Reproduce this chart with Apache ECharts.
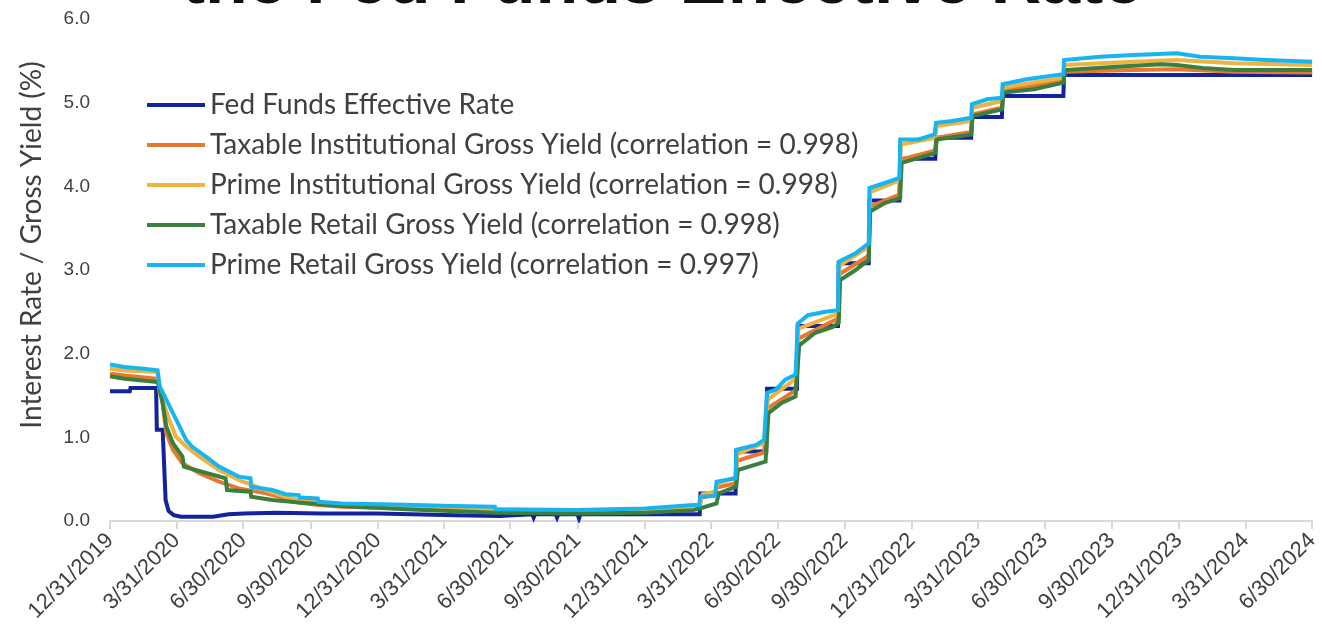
<!DOCTYPE html>
<html>
<head>
<meta charset="utf-8">
<title>Fed Funds Effective Rate vs Money Fund Gross Yields</title>
<script src="https://cdn.jsdelivr.net/npm/echarts@6/dist/echarts.min.js"></script>
<style>
  html, body { margin: 0; padding: 0; background: #ffffff; }
  #chart { width: 1322px; height: 630px; }
</style>
</head>
<body>
<div id="chart"></div>
<script>
// Quarter-end tick labels along the date axis
const tickLabels = ['12/31/2019','3/31/2020','6/30/2020','9/30/2020','12/31/2020','3/31/2021',
  '6/30/2021','9/30/2021','12/31/2021','3/31/2022','6/30/2022','9/30/2022','12/31/2022',
  '3/31/2023','6/30/2023','9/30/2023','12/31/2023','3/31/2024','6/30/2024'];

const yTicks = [0, 1, 2, 3, 4, 5, 6];

const seriesNames = [
  'Fed Funds Effective Rate',
  'Taxable Institutional Gross Yield (correlation = 0.998)',
  'Prime Institutional Gross Yield (correlation = 0.998)',
  'Taxable Retail Gross Yield (correlation = 0.998)',
  'Prime Retail Gross Yield (correlation = 0.997)'
];

// Fed funds effective rate (%)
const fedFunds = [
  ['2019-12-31',1.55],['2020-01-27',1.55],['2020-01-28',1.59],['2020-03-03',1.59],['2020-03-04',1.09],
  ['2020-03-12',1.09],['2020-03-16',0.25],['2020-03-20',0.12],['2020-03-27',0.07],['2020-04-06',0.05],
  ['2020-05-20',0.05],['2020-06-10',0.08],['2020-07-01',0.09],['2020-08-15',0.10],['2020-10-15',0.09],
  ['2020-12-31',0.09],['2021-02-15',0.08],['2021-04-15',0.07],['2021-06-16',0.06],['2021-06-17',0.08],
  ['2021-07-30',0.08],['2021-08-01',0.04],['2021-08-03',0.08],['2021-08-31',0.08],['2021-09-02',0.04],
  ['2021-09-04',0.08],['2021-09-30',0.08],['2021-10-02',0.03],['2021-10-04',0.08],['2022-03-16',0.08],
  ['2022-03-17',0.33],['2022-05-04',0.33],['2022-05-05',0.83],['2022-06-15',0.83],['2022-06-16',1.58],
  ['2022-07-27',1.58],['2022-07-28',2.33],['2022-09-21',2.33],['2022-09-22',3.08],['2022-11-02',3.08],
  ['2022-11-03',3.83],['2022-12-14',3.83],['2022-12-15',4.33],['2023-02-01',4.33],['2023-02-02',4.58],
  ['2023-03-22',4.58],['2023-03-23',4.83],['2023-05-03',4.83],['2023-05-04',5.08],['2023-07-26',5.08],
  ['2023-07-27',5.33],['2024-06-30',5.33]
];

// Taxable institutional money fund gross yield (%)
const taxableInst = [
  ['2019-12-31',1.76],['2020-01-20',1.74],['2020-03-05',1.70],['2020-03-12',1.40],['2020-03-17',1.05],
  ['2020-03-26',0.85],['2020-04-08',0.69],['2020-05-01',0.57],['2020-05-28',0.47],['2020-06-24',0.39],
  ['2020-07-31',0.33],['2020-08-27',0.27],['2020-09-14',0.22],['2020-10-11',0.19],['2020-11-12',0.17],
  ['2021-02-07',0.15],['2021-04-11',0.13],['2021-06-10',0.11],['2021-09-30',0.10],['2021-12-31',0.11],
  ['2022-03-07',0.15],['2022-03-16',0.18],['2022-03-18',0.28],['2022-04-06',0.31],['2022-04-08',0.40],
  ['2022-05-04',0.45],['2022-05-06',0.72],['2022-06-12',0.82],['2022-06-17',1.35],['2022-07-25',1.56],
  ['2022-07-29',2.18],['2022-09-21',2.42],['2022-09-23',2.95],['2022-11-02',3.17],['2022-11-04',3.76],
  ['2022-12-14',3.90],['2022-12-16',4.32],['2023-02-01',4.43],['2023-02-03',4.58],['2023-03-22',4.65],
  ['2023-03-24',4.86],['2023-05-03',4.94],['2023-05-05',5.14],['2023-07-26',5.26],['2023-07-28',5.37],
  ['2023-10-30',5.39],['2023-12-28',5.40],['2024-03-15',5.37],['2024-06-30',5.36]
];

// Prime institutional money fund gross yield (%)
const primeInst = [
  ['2019-12-31',1.82],['2020-01-20',1.80],['2020-03-05',1.78],['2020-03-08',1.53],['2020-03-21',1.21],
  ['2020-03-30',1.01],['2020-04-13',0.89],['2020-05-01',0.77],['2020-05-28',0.61],['2020-06-24',0.49],
  ['2020-07-31',0.37],['2020-08-27',0.29],['2020-09-14',0.25],['2020-10-11',0.22],['2020-11-12',0.20],
  ['2021-02-07',0.18],['2021-04-11',0.16],['2021-06-10',0.14],['2021-09-30',0.12],['2021-12-31',0.13],
  ['2022-03-07',0.17],['2022-03-16',0.20],['2022-03-20',0.32],['2022-04-06',0.35],['2022-04-10',0.45],
  ['2022-05-04',0.52],['2022-05-06',0.80],['2022-06-12',0.93],['2022-06-17',1.45],['2022-07-25',1.70],
  ['2022-07-29',2.30],['2022-09-21',2.48],['2022-09-23',3.05],['2022-11-02',3.28],['2022-11-04',3.93],
  ['2022-12-14',4.07],['2022-12-16',4.50],['2023-02-01',4.58],['2023-02-03',4.72],['2023-03-22',4.78],
  ['2023-03-24',4.94],['2023-05-03',5.02],['2023-05-05',5.18],['2023-07-26',5.30],['2023-07-28',5.45],
  ['2023-10-30',5.49],['2023-12-28',5.51],['2024-03-15',5.47],['2024-06-30',5.45]
];

// Taxable retail money fund gross yield (%)
const taxableRetail = [
  ['2019-12-31',1.73],['2020-01-20',1.70],['2020-03-05',1.66],['2020-03-07',1.61],['2020-03-12',1.41],
  ['2020-03-17',1.13],['2020-03-26',0.93],['2020-04-08',0.77],['2020-04-10',0.65],['2020-06-06',0.51],
  ['2020-06-08',0.37],['2020-07-10',0.35],['2020-07-11',0.29],['2020-08-09',0.25],['2020-09-14',0.22],
  ['2020-11-12',0.18],['2021-02-07',0.14],['2021-06-10',0.10],['2021-09-30',0.09],['2021-12-31',0.10],
  ['2022-03-07',0.13],['2022-03-16',0.15],['2022-04-08',0.21],['2022-04-11',0.33],['2022-05-05',0.41],
  ['2022-05-07',0.61],['2022-06-14',0.71],['2022-06-18',1.29],['2022-07-06',1.41],['2022-07-25',1.49],
  ['2022-07-30',2.10],['2022-08-21',2.25],['2022-09-14',2.32],['2022-09-22',2.37],['2022-09-24',2.88],
  ['2022-10-15',3.00],['2022-11-02',3.12],['2022-11-04',3.70],['2022-11-24',3.80],['2022-12-15',3.86],
  ['2022-12-17',4.28],['2023-01-09',4.34],['2023-02-01',4.40],['2023-02-03',4.56],['2023-03-22',4.62],
  ['2023-03-24',4.84],['2023-05-03',4.92],['2023-05-05',5.12],['2023-06-16',5.16],['2023-07-26',5.24],
  ['2023-07-28',5.39],['2023-10-07',5.43],['2023-12-06',5.46],['2023-12-28',5.45],['2024-02-06',5.41],
  ['2024-03-15',5.39],['2024-06-30',5.39]
];

// Prime retail money fund gross yield (%)
const primeRetail = [
  ['2019-12-31',1.87],['2020-01-20',1.84],['2020-02-15',1.82],['2020-03-05',1.80],['2020-03-08',1.61],
  ['2020-03-17',1.45],['2020-03-26',1.29],['2020-04-04',1.13],['2020-04-13',0.97],['2020-04-21',0.89],
  ['2020-05-10',0.77],['2020-05-28',0.65],['2020-06-24',0.53],['2020-07-10',0.51],['2020-07-11',0.41],
  ['2020-08-09',0.37],['2020-08-27',0.32],['2020-09-14',0.31],['2020-09-15',0.28],['2020-10-10',0.27],
  ['2020-10-11',0.23],['2020-11-12',0.21],['2021-02-07',0.195],['2021-04-11',0.18],['2021-06-09',0.17],
  ['2021-06-10',0.14],['2021-09-30',0.13],['2021-12-31',0.15],['2022-03-07',0.19],['2022-03-15',0.19],
  ['2022-03-17',0.29],['2022-04-06',0.30],['2022-04-08',0.47],['2022-05-04',0.51],['2022-05-05',0.85],
  ['2022-06-01',0.91],['2022-06-12',0.97],['2022-06-16',1.53],['2022-06-28',1.57],['2022-07-11',1.69],
  ['2022-07-25',1.75],['2022-07-28',2.36],['2022-08-11',2.46],['2022-09-04',2.50],['2022-09-21',2.52],
  ['2022-09-22',3.10],['2022-10-15',3.20],['2022-11-02',3.32],['2022-11-03',3.98],['2022-11-24',4.04],
  ['2022-12-14',4.10],['2022-12-15',4.56],['2023-01-09',4.56],['2023-01-31',4.62],['2023-02-02',4.76],
  ['2023-02-24',4.78],['2023-03-22',4.82],['2023-03-23',4.98],['2023-04-13',5.04],['2023-05-03',5.06],
  ['2023-05-04',5.22],['2023-06-06',5.28],['2023-07-08',5.32],['2023-07-26',5.34],['2023-07-27',5.51],
  ['2023-09-14',5.55],['2023-10-30',5.57],['2023-12-28',5.59],['2024-01-29',5.55],['2024-03-15',5.53],
  ['2024-04-28',5.51],['2024-06-30',5.49]
];

const seriesColors = ['#13239b', '#e8782f', '#efb43f', '#3a7f3e', '#18b4f0'];

// --- helpers: dates become UTC timestamps on a linear value axis ---
function isoToTime(s) {
  const [y, m, d] = s.split('-').map(Number);
  return Date.UTC(y, m - 1, d);
}
function mdyToTime(s) {
  const [m, d, y] = s.split('/').map(Number);
  return Date.UTC(y, m - 1, d);
}
const toPoints = arr => arr.map(([d, v]) => [isoToTime(d), v]);
const tickTimes = tickLabels.map(mdyToTime);

const seriesData = [fedFunds, taxableInst, primeInst, taxableRetail, primeRetail];

const chart = echarts.init(document.getElementById('chart'), null, { renderer: 'canvas' });

const labelColor = '#404040';

chart.setOption({
  animation: false,
  backgroundColor: '#ffffff',
  grid: { left: 110, right: 2, top: 19, bottom: 109, containLabel: false },
  legend: {
    orient: 'vertical',
    left: 142,
    top: 86,
    icon: 'rect',
    itemWidth: 58,
    itemHeight: 4,
    itemGap: 12,
    data: seriesNames,
    textStyle: { fontFamily: 'Lato', fontSize: 28, color: labelColor, lineHeight: 28 },
    selectedMode: false
  },
  xAxis: {
    type: 'value',
    min: tickTimes[0],
    max: tickTimes[tickTimes.length - 1],
    axisLine: { show: true, lineStyle: { color: '#d9d9d9', width: 2 } },
    axisTick: { show: true, customValues: tickTimes, length: 8, lineStyle: { color: '#d9d9d9', width: 2 } },
    axisLabel: {
      customValues: tickTimes,
      rotate: 45,
      margin: 16,
      hideOverlap: false,
      showMinLabel: true,
      showMaxLabel: true,
      fontFamily: 'Liberation Sans',
      fontSize: 22,
      color: labelColor,
      formatter: val => {
        const i = tickTimes.indexOf(val);
        return i >= 0 ? tickLabels[i] : '';
      }
    },
    splitLine: { show: false }
  },
  yAxis: {
    type: 'value',
    min: yTicks[0],
    max: yTicks[yTicks.length - 1],
    interval: 1,
    axisLine: { show: false },
    axisTick: { show: false },
    splitLine: { show: false },
    axisLabel: {
      margin: 20,
      fontFamily: 'Liberation Sans',
      fontSize: 19,
      color: labelColor,
      formatter: v => v.toFixed(1)
    }
  },
  graphic: [
    {
      type: 'text',
      x: 662,
      y: 19,
      style: {
        text: 'the Fed Funds Effective Rate',
        font: 'bold 70px "Liberation Sans"',
        fill: '#111111',
        align: 'center',
        verticalAlign: 'bottom'
      }
    },
    {
      type: 'text',
      x: 32,
      y: 245,
      rotation: Math.PI / 2,
      style: {
        text: 'Interest Rate / Gross Yield (%)',
        font: '28px Lato',
        fill: labelColor,
        align: 'center',
        verticalAlign: 'middle'
      }
    }
  ],
  series: seriesData.map((arr, i) => ({
    name: seriesNames[i],
    type: 'line',
    data: toPoints(arr),
    showSymbol: false,
    symbol: 'none',
    lineStyle: { width: 4, color: seriesColors[i], join: 'miter' },
    itemStyle: { color: seriesColors[i] },
    z: 2 + i
  }))
});
</script>
</body>
</html>
